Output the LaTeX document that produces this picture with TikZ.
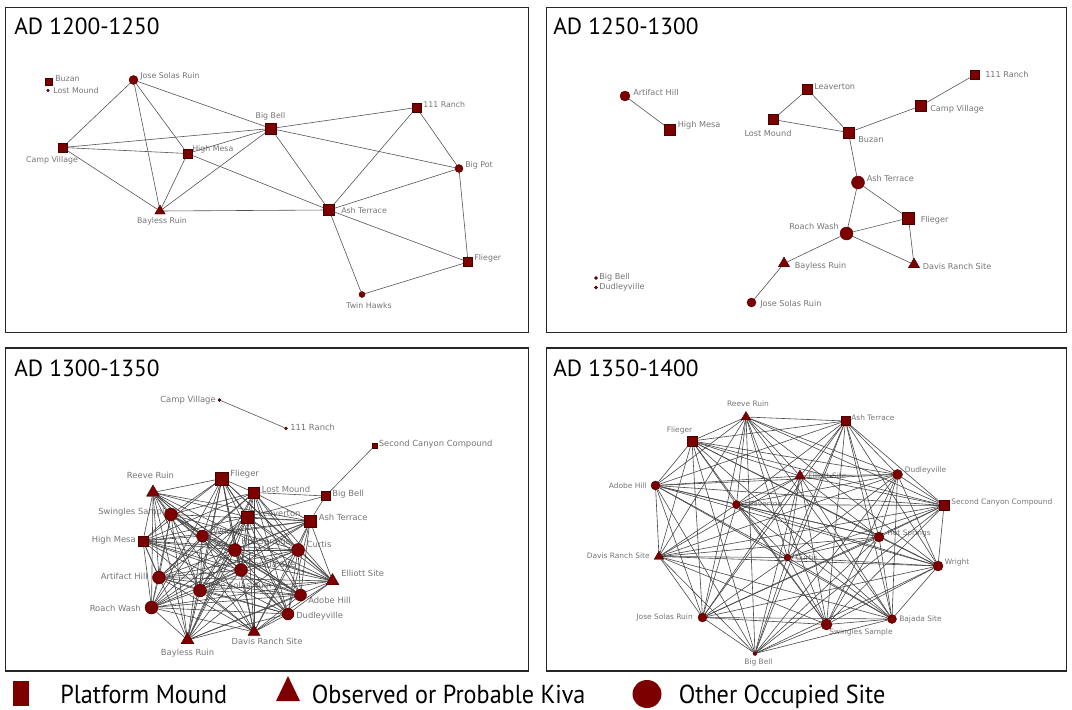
\documentclass[tikz,border=0pt]{standalone}
\usepackage{fontspec}
\setmainfont{DejaVu Sans}
\newfontfamily\titlefont{PT Sans}
\newfontfamily\legfont[FakeStretch=0.93]{PT Sans}
\usetikzlibrary{shapes.geometric}
\definecolor{nodered}{RGB}{125,0,0}
\definecolor{nodeline}{RGB}{70,0,0}
\definecolor{edgecol}{RGB}{85,85,85}
\definecolor{labcol}{RGB}{118,118,118}
\pgfdeclarelayer{back}
\pgfdeclarelayer{labl}
\pgfdeclarelayer{bg}
\pgfsetlayers{back,labl,bg,main}
\tikzset{
  sq/.style={rectangle,minimum size=#1*0.75pt,inner sep=0pt,fill=nodered,draw=nodeline,line width=0.3pt},
  ci/.style={circle,minimum size=#1*0.75pt,inner sep=0pt,fill=nodered,draw=nodeline,line width=0.3pt},
  tr/.style={regular polygon,regular polygon sides=3,minimum size=#1*0.75pt,inner sep=0pt,fill=nodered,draw=nodeline,line width=0.3pt},
  lab/.style={inner sep=0pt,text=labcol},
  edge/.style={draw=edgecol,line width=0.45pt},
  edgeD/.style={draw=black!72,line width=0.45pt},
  panel/.style={draw=black!85,line width=1.1pt},
  title/.style={font=\titlefont\fontsize{17.5}{19}\selectfont,anchor=base west,inner sep=0pt},
  legtext/.style={font=\legfont\fontsize{19.5}{22}\selectfont,anchor=base west,inner sep=0pt},
}
\begin{document}
\begin{tikzpicture}[x=0.75pt,y=-0.75pt]
\begin{pgfonlayer}{back}
\fill[white] (0,0) rectangle (1072,710);
\end{pgfonlayer}
\path[use as bounding box] (0,0) rectangle (1072,710);

% ---------- panel frames and titles ----------
\draw[panel] (5.5,7.5) rectangle (528.5,332.5);
\draw[panel] (546.5,7.5) rectangle (1066.5,332.5);
\draw[panel] (5.5,348) rectangle (528.5,671);
\draw[panel] (546.5,348) rectangle (1066.5,671);
\node[title] (t1) at (14,35) {AD 1200-1250};
\node[title] (t2) at (553,35) {AD 1250-1300};
\node[title] (t3) at (14,376.5) {AD 1300-1350};
\node[title] (t4) at (553,376.5) {AD 1350-1400};

% ---------- Panel 1 ----------
\begin{scope}[lab/.append style={font=\fontsize{5.9}{6}\selectfont}]
\node[sq=7] (aBuz) at (49,82) {};
\node[ci=2.5] (aLM) at (48,90.5) {};
\node[ci=9] (aJS) at (133.5,80) {};
\node[sq=9] (aCV) at (62.5,147.5) {};
\node[sq=9] (aHM) at (187.5,153.5) {};
\node[sq=11] (aBB) at (271,128.5) {};
\node[sq=9] (a111) at (416.5,107.5) {};
\node[ci=8] (aBP) at (459,168.5) {};
\node[tr=12] (aBR) at (160,211) {};
\node[sq=11] (aAT) at (329,210) {};
\node[sq=9] (aFl) at (468,262) {};
\node[ci=6] (aTH) at (362,294.5) {};
\begin{pgfonlayer}{labl}
\node[lab,anchor=west] (aBuzL) at (55,79) {Buzan};
\node[lab,anchor=west] (aLML) at (53,90.5) {Lost Mound};
\node[lab,anchor=west] (aJSL) at (140,76) {Jose Solas Ruin};
\node[lab] (aCVL) at (52,160.5) {Camp Village};
\node[lab,anchor=west] (aHML) at (192,149.5) {High Mesa};
\node[lab] (aBBL) at (270.5,116) {Big Bell};
\node[lab,anchor=west] (a111L) at (423,105) {111 Ranch};
\node[lab,anchor=west] (aBPL) at (465,165) {Big Pot};
\node[lab] (aBRL) at (162,221) {Bayless Ruin};
\node[lab,anchor=west] (aATL) at (341,210.5) {Ash Terrace};
\node[lab,anchor=west] (aFlL) at (474,258.5) {Flieger};
\node[lab] (aTHL) at (369,306) {Twin Hawks};
\end{pgfonlayer}
\begin{pgfonlayer}{bg}
\foreach \u/\v in {aJS/aCV,aJS/aBR,aJS/aHM,aJS/aBB,aCV/aBB,aCV/aHM,aCV/aBR,aHM/aBR,aHM/aBB,aHM/aAT,aBR/aBB,aBR/aAT,aBB/a111,aBB/aBP,aBB/aAT,a111/aAT,a111/aBP,aBP/aAT,aBP/aFl,aAT/aFl,aAT/aTH,aTH/aFl}
  \draw[edge] (\u) -- (\v);
\end{pgfonlayer}
\end{scope}

% ---------- Panel 2 ----------
\begin{scope}[lab/.append style={font=\fontsize{6.1}{6.2}\selectfont}]
\node[ci=10] (bAH) at (625,96) {};
\node[sq=11] (bHM) at (670,129.5) {};
\node[sq=10] (bLe) at (807.5,89.5) {};
\node[sq=10] (bLM) at (773,119.5) {};
\node[sq=11] (bBuz) at (848.5,132.5) {};
\node[sq=11] (bCV) at (920.5,106) {};
\node[sq=9] (b111) at (974.5,75) {};
\node[ci=13] (bAT) at (858,182.5) {};
\node[sq=12] (bFl) at (908.5,218) {};
\node[ci=13] (bRW) at (846.5,233.5) {};
\node[tr=13] (bBR) at (784,263.5) {};
\node[tr=13] (bDR) at (914,264.5) {};
\node[ci=9] (bJS) at (751.5,302.5) {};
\node[ci=3] (bBB) at (596,278) {};
\node[ci=3] (bDu) at (596,287.5) {};
\begin{pgfonlayer}{labl}
\node[lab,anchor=west] (bAHL) at (633,92.5) {Artifact Hill};
\node[lab,anchor=west] (bHML) at (677.5,125.5) {High Mesa};
\node[lab,anchor=west] (bLeL) at (814,86.5) {Leaverton};
\node[lab] (bLML) at (768,133.5) {Lost Mound};
\node[lab,anchor=west] (bBuzL) at (858,139.5) {Buzan};
\node[lab,anchor=west] (bCVL) at (930,109.5) {Camp Village};
\node[lab,anchor=west] (b111L) at (985,74.5) {111 Ranch};
\node[lab,anchor=west] (bATL) at (866.5,178) {Ash Terrace};
\node[lab,anchor=west] (bFlL) at (920.5,220.5) {Flieger};
\node[lab,anchor=east] (bRWL) at (839,226) {Roach Wash};
\node[lab,anchor=west] (bBRL) at (794.5,266) {Bayless Ruin};
\node[lab,anchor=west] (bDRL) at (922.5,266) {Davis Ranch Site};
\node[lab,anchor=west] (bJSL) at (760,304) {Jose Solas Ruin};
\node[lab,anchor=west] (bBBL) at (599,277.5) {Big Bell};
\node[lab,anchor=west] (bDuL) at (599,287.5) {Dudleyville};
\end{pgfonlayer}
\begin{pgfonlayer}{bg}
\foreach \u/\v in {bAH/bHM,bLe/bLM,bLe/bBuz,bLM/bBuz,bBuz/bCV,bCV/b111,bBuz/bAT,bAT/bRW,bAT/bFl,bRW/bFl,bRW/bDR,bFl/bDR,bRW/bBR,bBR/bJS}
  \draw[edge] (\u) -- (\v);
\end{pgfonlayer}
\end{scope}

% ---------- Panel 3 ----------
\begin{scope}[lab/.append style={font=\fontsize{6.3}{6.4}\selectfont}]
\node[ci=3] (cCV) at (219.5,400) {};
\node[ci=3] (c111) at (286,428.3) {};
\node[sq=5] (cSC) at (374.5,446) {};
\node[tr=15] (cRR) at (153,492.5) {};
\node[sq=13] (cFl) at (222,478.5) {};
\node[sq=11] (cLM) at (254,492.5) {};
\node[sq=9] (cBB) at (325.5,496) {};
\node[ci=13] (cSS) at (171,514.5) {};
\node[sq=12] (cLe) at (247,517) {};
\node[sq=12] (cAT) at (310,521) {};
\node[sq=10] (cHM) at (143,541) {};
\node[ci=12] (cWr) at (202.5,536) {};
\node[ci=13] (cHS) at (235,550) {};
\node[ci=13] (cCu) at (298,550) {};
\node[ci=13] (cBS) at (241,570) {};
\node[tr=15] (cES) at (332.5,581) {};
\node[ci=13] (cAH) at (159,577.5) {};
\node[ci=13] (cJS) at (200,590.5) {};
\node[ci=12] (cAd) at (300.5,595) {};
\node[ci=13] (cRW) at (151.5,607.5) {};
\node[ci=12] (cDu) at (288,614) {};
\node[tr=15] (cBR) at (187.5,640) {};
\node[tr=14] (cDR) at (254,632) {};
\begin{pgfonlayer}{labl}
\node[lab,anchor=east] (cCVL) at (216,400) {Camp Village};
\node[lab,anchor=west] (c111L) at (290,427.5) {111 Ranch};
\node[lab,anchor=west] (cSCL) at (378.5,444.5) {Second Canyon Compound};
\node[lab] (cRRL) at (150.5,475.7) {Reeve Ruin};
\node[lab,anchor=west] (cFlL) at (230,474) {Flieger};
\node[lab,anchor=west] (cLML) at (261.5,489) {Lost Mound};
\node[lab,anchor=west] (cBBL) at (332,494) {Big Bell};
\node[lab,anchor=west] (cSSL) at (98,512) {Swingles Sample};
\node[lab,anchor=west] (cLeL) at (258,513.5) {Leaverton};
\node[lab,anchor=west] (cATL) at (318.5,517) {Ash Terrace};
\node[lab,anchor=east] (cHML) at (136,540) {High Mesa};
\node[lab,anchor=west] (cWrL) at (213,532.5) {Wright};
\node[lab,anchor=west] (cHSL) at (241,542) {Hot Springs};
\node[lab,anchor=west] (cCuL) at (306.5,544.5) {Curtis};
\node[lab,anchor=west] (cBSL) at (248,565) {Bajada Site};
\node[lab,anchor=west] (cESL) at (341,573.5) {Elliott Site};
\node[lab,anchor=east] (cAHL) at (148,576) {Artifact Hill};
\node[lab,anchor=west] (cJSL) at (208,586.5) {Jose Solas Ruin};
\node[lab,anchor=west] (cAdL) at (308,600) {Adobe Hill};
\node[lab,anchor=east] (cRWL) at (141,608.5) {Roach Wash};
\node[lab,anchor=west] (cDuL) at (296,616) {Dudleyville};
\node[lab] (cBRL) at (187.5,653.5) {Bayless Ruin};
\node[lab] (cDRL) at (267,641) {Davis Ranch Site};
\end{pgfonlayer}
\begin{pgfonlayer}{bg}
\foreach \u/\v in {cCV/c111,cSC/cBB,cBB/cLM,cBB/cLe,cBB/cAT}
  \draw[edge] (\u) -- (\v);
\foreach \u [count=\i] in {cRR,cFl,cLM,cSS,cLe,cAT,cHM,cWr,cHS,cCu,cBS,cES,cAH,cJS,cAd,cRW,cDu,cBR,cDR}{
  \foreach \v [count=\j] in {cRR,cFl,cLM,cSS,cLe,cAT,cHM,cWr,cHS,cCu,cBS,cES,cAH,cJS,cAd,cRW,cDu,cBR,cDR}{
    \ifnum\j>\i
      \pgfmathtruncatemacro\r{mod(\i*5+\j*3,7)}
      \ifnum\r>0 \draw[edgeD] (\u) -- (\v); \fi
    \fi
  }
}
\end{pgfonlayer}
\end{scope}

% ---------- Panel 4 ----------
\begin{scope}[lab/.append style={font=\fontsize{5.6}{5.7}\selectfont}]
\node[tr=11] (dRR) at (746,417) {};
\node[sq=9] (dAT) at (845.5,421) {};
\node[sq=10] (dFl) at (692,441) {};
\node[tr=12] (dES) at (800,476) {};
\node[ci=10] (dDu) at (897.5,474.5) {};
\node[ci=9] (dAd) at (655.5,485.5) {};
\node[sq=10] (dSC) at (944,505.5) {};
\node[ci=8] (dLe) at (736.5,504.5) {};
\node[ci=10] (dHS) at (879,537) {};
\node[tr=11] (dDR) at (659,556.5) {};
\node[ci=7] (dCu) at (787.5,557.5) {};
\node[ci=10] (dWr) at (938,566) {};
\node[ci=9] (dJS) at (702.5,617.5) {};
\node[ci=11] (dSS) at (826.5,624.5) {};
\node[ci=9] (dBS) at (892,619) {};
\node[ci=4] (dBB) at (755,653.5) {};
\begin{pgfonlayer}{labl}
\node[lab] (dRRL) at (748,403.5) {Reeve Ruin};
\node[lab,anchor=west] (dATL) at (851,417.5) {Ash Terrace};
\node[lab] (dFlL) at (679.5,430) {Flieger};
\node[lab,anchor=west] (dESL) at (808,475.5) {Elliott Site};
\node[lab,anchor=west] (dDuL) at (904.5,470) {Dudleyville};
\node[lab,anchor=east] (dAdL) at (647,485.5) {Adobe Hill};
\node[lab,anchor=west] (dSCL) at (951,502.5) {Second Canyon Compound};
\node[lab,anchor=west] (dLeL) at (744.5,504) {Leaverton};
\node[lab,anchor=west] (dHSL) at (887,533.5) {Hot Springs};
\node[lab,anchor=east] (dDRL) at (650,556) {Davis Ranch Site};
\node[lab,anchor=west] (dCuL) at (795.5,558) {Curtis};
\node[lab,anchor=west] (dWrL) at (944.5,562) {Wright};
\node[lab,anchor=east] (dJSL) at (693,617.5) {Jose Solas Ruin};
\node[lab,anchor=west] (dSSL) at (829,632) {Swingles Sample};
\node[lab,anchor=west] (dBSL) at (899,619) {Bajada Site};
\node[lab] (dBBL) at (758.5,662.5) {Big Bell};
\end{pgfonlayer}
\begin{pgfonlayer}{bg}
\foreach \u [count=\i] in {dRR,dAT,dFl,dES,dDu,dAd,dSC,dLe,dHS,dDR,dCu,dWr,dJS,dSS,dBS,dBB}{
  \foreach \v [count=\j] in {dRR,dAT,dFl,dES,dDu,dAd,dSC,dLe,dHS,dDR,dCu,dWr,dJS,dSS,dBS,dBB}{
    \ifnum\j>\i
      \pgfmathtruncatemacro\r{mod(\i*3+\j*5,8)}
      \ifnum\r>0 \draw[edgeD] (\u) -- (\v); \fi
    \fi
  }
}
\end{pgfonlayer}
\end{scope}

% ---------- Legend ----------
\node[rectangle,minimum width=16*0.75pt,minimum height=25*0.75pt,inner sep=0pt,fill=nodered] (legSq) at (21,693.5) {};
\node[isosceles triangle,isosceles triangle stretches,shape border rotate=90,minimum width=24*0.75pt,minimum height=25*0.75pt,inner sep=0pt,fill=nodered] (legTr) at (288,693.5) {};
\node[ellipse,minimum width=29*0.75pt,minimum height=28*0.75pt,inner sep=0pt,fill=nodered] (legCi) at (647,694) {};
\node[legtext] (legSqT) at (60,703) {Platform Mound};
\node[legtext] (legTrT) at (311.5,703) {Observed or Probable Kiva};
\node[legtext] (legCiT) at (678.5,703) {Other Occupied Site};
\end{tikzpicture}
\end{document}
